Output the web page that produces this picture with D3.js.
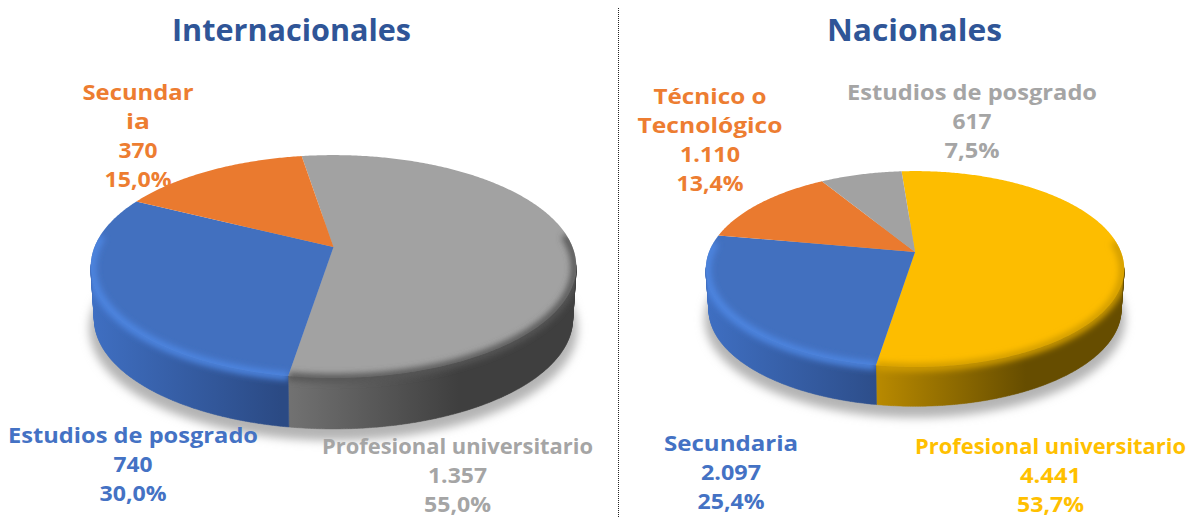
<!DOCTYPE html>
<html>
<head>
<meta charset="utf-8">
<script src="https://cdnjs.cloudflare.com/ajax/libs/d3/7.8.5/d3.min.js"></script>
<style>
  html, body { margin: 0; padding: 0; background: #fff; }
  svg { display: block; }
  text { font-family: "Open Sans", sans-serif; font-weight: 700; text-anchor: middle; }
</style>
</head>
<body>
<svg id="chart" width="1193" height="518"></svg>
<script>
// Values
const titles = ["Internacionales", "Nacionales"];

const intlCategories = [["Profesional universitario"], ["Estudios de posgrado"], ["Secundar", "ia"]];
const intlValues = [1357, 740, 370];

const natCategories = [["Profesional universitario"], ["Secundaria"], ["Técnico o", "Tecnológico"], ["Estudios de posgrado"]];
const natValues = [4441, 2097, 1110, 617];

const GREY = { top: "#a2a2a2", rim: "#565656", wallA: "#727272", wallB: "#3f3f3f", span: 170, text: "#a5a5a5" };
const BLUE = { top: "#4270bf", rim: "#4e86e2", wallA: "#3f6fc2", wallB: "#2b4a84", span: 190, text: "#4472c4" };
const ORANGE = { top: "#ea7a2f", rim: "#f08a40", wallA: "#9c5220", wallB: "#a85a24", span: 100, text: "#ed7d31" };
const YELLOW = { top: "#fdbd00", rim: "#d09c00", wallA: "#b98a00", wallB: "#664d00", span: 150, text: "#ffc000" };

const LH = 29;

// the original font runs wider than anything installed, so texts are fitted to their measured width
const textWidths = {
  "Internacionales": 239, "Nacionales": 175,
  "Profesional universitario": 271, "Estudios de posgrado": 250,
  "Secundar": 111, "ia": 24, "Secundaria": 134, "Técnico o": 113, "Tecnológico": 145,
  "370": 39, "740": 39, "617": 39,
  "1.357": 59, "1.110": 60, "2.097": 60, "4.441": 61,
  "7,5%": 55
};
const PCT_WIDTH = 67;

const pies = [
  {
    title: titles[0], titleX: 291.5, titleY: 41,
    categories: intlCategories, values: intlValues, colors: [GREY, BLUE, ORANGE],
    cx: 333.5, ay: 247, R: 239, S: 108, k: 0.175, depth: 53, start: -9,
    labels: [[457.5, 447], [133, 436], [138, 93]]
  },
  {
    title: titles[1], titleX: 914.5, titleY: 41,
    categories: natCategories, values: natValues, colors: [YELLOW, BLUE, ORANGE, GREY],
    cx: 915, ay: 252, R: 206, S: 95, k: 0.174, depth: 41, start: -4.4,
    labels: [[1050.5, 447], [731, 444], [710, 97], [972, 93]]
  }
];

const locale = d3.formatLocale({ decimal: ",", thousands: ".", grouping: [3], currency: ["", ""] });
const fmtN = locale.format(",d");
const fmtP = locale.format(".1%");

const svg = d3.select("#chart");
const defs = svg.append("defs");

defs.append("filter").attr("id", "blurShadow")
  .attr("x", "-20%").attr("y", "-20%").attr("width", "140%").attr("height", "140%")
  .append("feGaussianBlur").attr("stdDeviation", 5);
defs.append("filter").attr("id", "blurRim")
  .attr("x", "-20%").attr("y", "-20%").attr("width", "140%").attr("height", "140%")
  .append("feGaussianBlur").attr("stdDeviation", 3);

const line = d3.line().x(d => d[0]).y(d => d[1]);

const fitted = (sel, s) => sel
  .attr("textLength", textWidths[s] || PCT_WIDTH)
  .attr("lengthAdjust", "spacingAndGlyphs")
  .text(s);

// divider between the two pies
svg.append("line")
  .attr("x1", 618.5).attr("x2", 618.5).attr("y1", 8).attr("y2", 518)
  .attr("stroke", "#222").attr("stroke-width", 1).attr("stroke-dasharray", "1 1");

pies.forEach((p, pi) => {
  const g = svg.append("g");

  // circle in the pie's plane -> screen, the far side is squeezed
  const project = (a, scale, dy) => {
    const u = Math.sin(a), v = Math.cos(a), w = 1 + p.k * v;
    return [p.cx + scale * p.R * u / w, p.ay + dy - scale * p.S * v / w];
  };
  const topPt = a => project(a, 1, 0);
  const botPt = a => project(a, 0.985, p.depth);

  const samples = (a0, a1) => {
    const n = Math.max(2, Math.ceil((a1 - a0) / 0.01));
    return d3.range(n + 1).map(i => a0 + (a1 - a0) * i / n);
  };

  const arcs = d3.pie().sort(null)
    .startAngle(p.start * Math.PI / 180)
    .endAngle(p.start * Math.PI / 180 + 2 * Math.PI)(p.values);

  // soft shadow under the disc
  const full = samples(0, 2 * Math.PI);
  g.append("path")
    .attr("d", line(full.map(a => project(a, 1.005, p.depth + 9))) + "Z")
    .attr("fill", "#b4b4b4")
    .attr("filter", "url(#blurShadow)");

  const parts = arcs.map((d, i) => {
    const as = samples(d.startAngle, d.endAngle);
    const tops = as.map(topPt);
    // only the front shows a wall, the silhouette points sit at cos = -k
    const front = as.filter(a => Math.cos(a) <= -p.k + 0.02);
    const wall = d3.pairs(front).map(([a, b]) =>
      line([topPt(a), topPt(b), botPt(b), botPt(a)]) + "Z").join("");
    return {
      col: p.colors[i],
      wall,
      face: line(tops.concat([[p.cx, p.ay]])) + "Z",
      front,
      i
    };
  });

  // walls first, the faces go over them
  parts.filter(s => s.front.length > 1).forEach(s => {
    const x0 = d3.min(s.front, a => topPt(a)[0]);
    const gradId = `wall${pi}-${s.i}`;
    const grad = defs.append("linearGradient").attr("id", gradId)
      .attr("gradientUnits", "userSpaceOnUse")
      .attr("x1", x0).attr("x2", x0 + s.col.span)
      .attr("y1", 0).attr("y2", 0);
    grad.append("stop").attr("offset", 0).attr("stop-color", s.col.wallA);
    grad.append("stop").attr("offset", 1).attr("stop-color", s.col.wallB);
    g.append("path").attr("d", s.wall).attr("fill", `url(#${gradId})`)
      .attr("stroke", `url(#${gradId})`).attr("stroke-width", 0.5);
  });

  parts.forEach(s => {
    g.append("path").attr("d", s.face).attr("fill", s.col.top);
  });

  // bevel on the front edge, kept inside its own slice
  parts.filter(s => s.front.length > 1).forEach(s => {
    const clipId = `clip${pi}-${s.i}`;
    defs.append("clipPath").attr("id", clipId)
      .selectAll("path").data([s.wall, s.face]).join("path").attr("d", t => t);
    const arcAngles = samples(arcs[s.i].startAngle, arcs[s.i].endAngle).filter(a => Math.cos(a) < 0.12);
    g.append("g").attr("clip-path", `url(#${clipId})`)
      .append("path")
      .attr("d", line(arcAngles.map(a => project(a, 0.995, 1))))
      .attr("fill", "none")
      .attr("stroke", s.col.rim)
      .attr("stroke-width", 8)
      .attr("filter", "url(#blurRim)");
  });

  // title
  svg.append("text")
    .attr("x", p.titleX).attr("y", p.titleY)
    .attr("font-size", 30.5)
    .attr("fill", "#2f5597")
    .call(fitted, p.title);

  // labels
  const total = d3.sum(p.values);
  p.values.forEach((v, i) => {
    const rows = p.categories[i].concat([fmtN(v), fmtP(v / total)]);
    rows.forEach((r, j) => {
      svg.append("text")
        .attr("x", p.labels[i][0])
        .attr("y", p.labels[i][1] + 7 + j * LH)
        .attr("font-size", 22)
        .attr("fill", p.colors[i].text)
        .call(fitted, r);
    });
  });
});
</script>
</body>
</html>
